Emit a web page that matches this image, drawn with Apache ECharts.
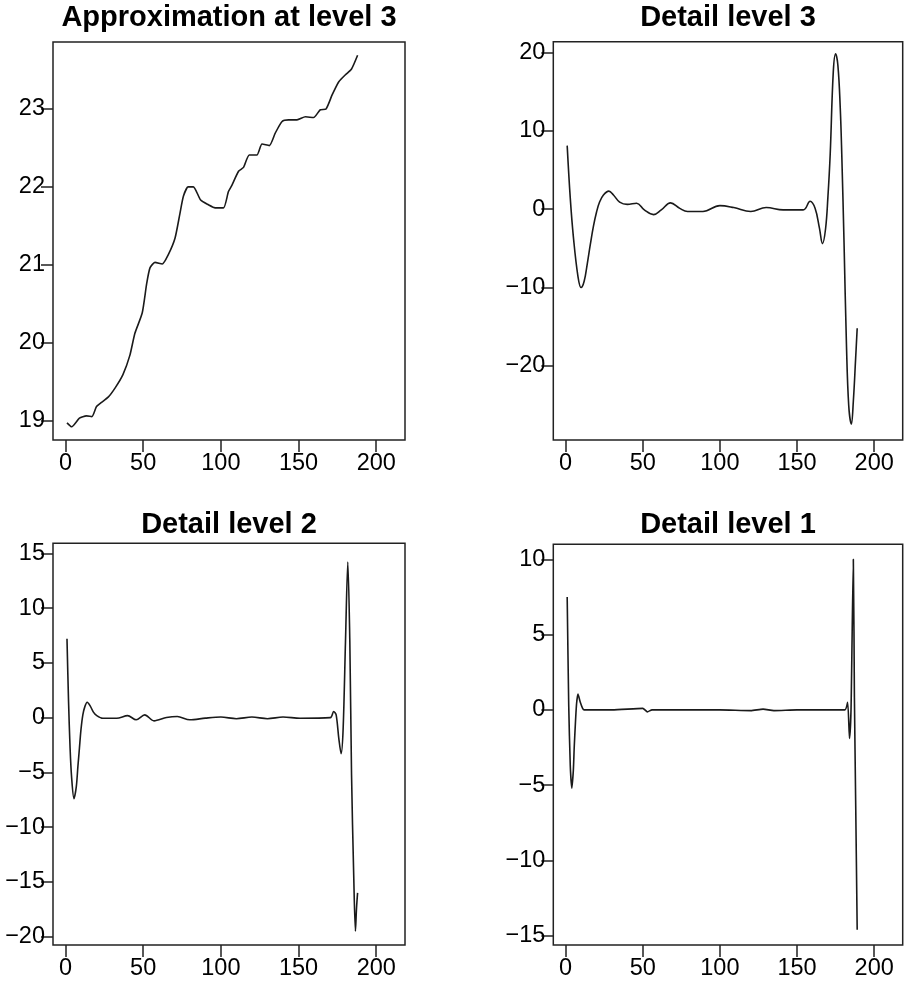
<!DOCTYPE html>
<html>
<head>
<meta charset="utf-8">
<script src="https://cdn.jsdelivr.net/npm/echarts@6/dist/echarts.min.js"></script>
<style>html,body{margin:0;padding:0;background:#fff;}#chart{width:904px;height:984px;}</style>
</head>
<body>
<div id="chart"></div>
<script>
// ---- data: [index, value] ----
const approxLevel3 = [
  [1,18.97],[4,18.92],[9,19.03],[13.5,19.06],[17,19.05],[20,19.18],[23,19.23],[27.5,19.30],
  [32,19.42],[37,19.59],[41.5,19.84],[44.7,20.12],[49.4,20.38],[52.3,20.76],[54.4,20.96],
  [57.6,21.03],[62.3,21.01],[66.2,21.13],[70.5,21.34],[73.7,21.66],[75.9,21.88],[79,22.0],
  [82.3,22.0],[87,21.83],[92,21.77],[96.3,21.73],[101.7,21.73],[104.9,21.94],[107.1,22.02],
  [111.4,22.2],[114.6,22.25],[118.3,22.41],[123.2,22.41],[126.5,22.55],[131.2,22.53],
  [135,22.69],[139.4,22.84],[143.6,22.86],[149,22.86],[154.4,22.90],[159.7,22.89],
  [164,22.99],[167.7,23.0],[171.6,23.18],[175.9,23.35],[180.2,23.44],[184,23.51],[188,23.69]
];
const detailLevel3 = [
  [1,8.1],[3,1.4],[5,-3.5],[8,-8.6],[10,-10.0],[12,-9.2],[14,-7.0],[16,-4.5],[18,-2.2],
  [20,-0.4],[22,0.9],[24.5,1.8],[28,2.3],[31,1.8],[35,0.9],[40,0.6],[46,0.75],[51,-0.1],
  [57,-0.7],[62,-0.1],[68,0.8],[74,0.1],[79,-0.3],[89,-0.3],[100,0.45],[109,0.2],[120,-0.3],
  [130,0.2],[141,-0.1],[154,-0.1],[158.5,1.0],[161.7,0.1],[164.5,-2.4],[166.5,-4.4],
  [168.5,-2.5],[170,1.5],[171.5,7.0],[173.5,17.5],[175,19.8],[176.5,18.3],[178,13.0],
  [179,7.0],[180.5,-4.5],[182,-17.0],[183.5,-25.0],[185.2,-27.4],[186.5,-24.5],[188,-19.0],[189,-15.2]
];
const detailLevel2 = [
  [1,7.2],[2,1.5],[3,-2.8],[4,-5.5],[5.5,-7.4],[7,-6.3],[8,-4.5],[9,-2.8],[10,-1.1],
  [11.2,0.25],[12.5,1.0],[14,1.4],[16,1.05],[18,0.5],[20,0.2],[24,-0.06],[33,-0.06],
  [40,0.18],[45.5,-0.2],[51,0.25],[57,-0.3],[65,0.0],[72,0.1],[80,-0.2],[90,-0.05],
  [100,0.05],[110,-0.1],[120,0.05],[130,-0.1],[140,0.05],[151,-0.06],[170.5,0.0],
  [172.6,0.55],[174.2,0.25],[175.9,-1.9],[177.4,-3.3],[178.7,-1.0],[180.2,6.9],[181.7,14.2],
  [183,6.9],[184.1,-5.2],[185.5,-14.4],[186.6,-19.5],[187.3,-17.4],[188,-16.0]
];
const detailLevel1 = [
  [1,7.5],[2,0.3],[3,-3.7],[4,-5.2],[5,-4.0],[5.6,-2.4],[7,0.3],[8,1.05],[9.5,0.5],
  [11,0.1],[12,0.0],[30,0.0],[50,0.1],[53,-0.13],[56,0.0],[80,0.0],[100,0.0],[120,-0.05],
  [128,0.05],[135,-0.05],[150,0.0],[181,0.0],[182.8,0.5],[184,-1.9],[185,0.0],
  [186.5,10.0],[187.2,0.8],[188,-6.0],[189,-14.6]
];
const xTickValues = [0,50,100,150,200];
const yTicksApprox3 = [19,20,21,22,23];
const yTicksDetail3 = [-20,-10,0,10,20];
const yTicksDetail2 = [-20,-15,-10,-5,0,5,10,15];
const yTicksDetail1 = [-15,-10,-5,0,5,10];
const panelTitles = ['Approximation at level 3','Detail level 3','Detail level 2','Detail level 1'];

// ---- layout ----
const panels = [
  {grid:{left:53, top:42, width:352, height:398}, ymin:18.75, ymax:23.86, yt:yTicksApprox3, data:approxLevel3, smooth:0.2, tx:229, ty:3},
  {grid:{left:553.3, top:41.7, width:349.4, height:398.3}, ymin:-29.44, ymax:21.35, yt:yTicksDetail3, data:detailLevel3, smooth:0.4, tx:728, ty:3},
  {grid:{left:53, top:543.3, width:352, height:401.7}, ymin:-20.76, ymax:15.91, yt:yTicksDetail2, data:detailLevel2, smooth:0.3, tx:229, ty:510},
  {grid:{left:553.3, top:544.3, width:349.4, height:400.7}, ymin:-15.62, ymax:11.0, yt:yTicksDetail1, data:detailLevel1, smooth:0.2, tx:728, ty:510}
];
const FONT = 'Liberation Sans, Arial, sans-serif';
const fmt = v => String(v).replace('-', '\u2212');
const tickStyle = {color:'#222', width:1.5};

const option = {
  backgroundColor:'#fff',
  animation:false,
  title: panels.map((p,i)=>({
    text: panelTitles[i], left:p.tx, top:p.ty, textAlign:'center', padding:0,
    textStyle:{fontFamily:FONT, fontWeight:'bold', fontSize:29, color:'#000'}
  })),
  grid: panels.map(p=>Object.assign({show:true, borderColor:'#222', borderWidth:1.5, backgroundColor:'transparent'}, p.grid)),
  xAxis: panels.map((p,i)=>({
    type:'value', gridIndex:i, min:-8, max:218.5, position:'bottom',
    axisLine:{show:false, onZero:false},
    splitLine:{show:false},
    axisTick:{show:true, length:12, lineStyle:tickStyle, customValues:xTickValues},
    axisLabel:{customValues:xTickValues, fontFamily:FONT, fontSize:23.5, color:'#000', margin:12, formatter:fmt}
  })),
  yAxis: panels.map((p,i)=>({
    type:'value', gridIndex:i, min:p.ymin, max:p.ymax, position:'left',
    axisLine:{show:false, onZero:false},
    splitLine:{show:false},
    axisTick:{show:true, length:12, lineStyle:tickStyle, customValues:p.yt},
    axisLabel:{customValues:p.yt, fontFamily:FONT, fontSize:23.5, color:'#000', margin:8, formatter:fmt}
  })),
  series: panels.map((p,i)=>({
    type:'line', xAxisIndex:i, yAxisIndex:i, data:p.data, showSymbol:false, smooth:p.smooth,
    lineStyle:{color:'#1a1a1a', width:1.6}, silent:true
  }))
};
const chart = echarts.init(document.getElementById('chart'), null, {renderer:'canvas'});
chart.setOption(option);
</script>
</body>
</html>
